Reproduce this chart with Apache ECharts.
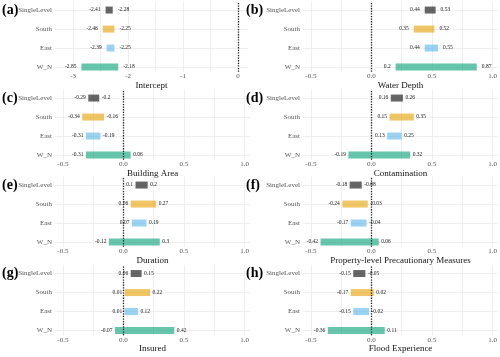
<!DOCTYPE html>
<html>
<head>
<meta charset="utf-8">
<script src="https://cdn.jsdelivr.net/npm/echarts@6/dist/echarts.min.js"></script>
<style>
  html, body { margin: 0; padding: 0; background: #fff; }
  #chart { width: 500px; height: 357px; }
</style>
</head>
<body>
<div id="chart"></div>
<script>
// categories bottom -> top
const categories = ['W_N', 'East', 'South', 'SingleLevel']
const groupColors = ['#009E73', '#56B4E9', '#E69F00', '#000000']

// [low, high] per category, same order as categories
const interceptCI = [[-2.85, -2.18], [-2.39, -2.25], [-2.46, -2.25], [-2.41, -2.28]]
const waterDepthCI = [[0.2, 0.87], [0.44, 0.55], [0.35, 0.52], [0.44, 0.53]]
const buildingAreaCI = [[-0.31, 0.06], [-0.31, -0.19], [-0.34, -0.16], [-0.29, -0.2]]
const contaminationCI = [[-0.19, 0.32], [0.13, 0.25], [0.15, 0.35], [0.16, 0.26]]
const durationCI = [[-0.12, 0.3], [0.07, 0.19], [0.06, 0.27], [0.1, 0.2]]
const precautionCI = [[-0.42, 0.06], [-0.17, -0.04], [-0.24, -0.03], [-0.18, -0.08]]
const insuredCI = [[-0.07, 0.42], [0.01, 0.12], [0.01, 0.22], [0.06, 0.15]]
const floodExpCI = [[-0.36, 0.11], [-0.15, -0.02], [-0.17, 0.02], [-0.15, -0.05]]

const panelData = [interceptCI, waterDepthCI, buildingAreaCI, contaminationCI,
  durationCI, precautionCI, insuredCI, floodExpCI]
const panelTags = ['(a)', '(b)', '(c)', '(d)', '(e)', '(f)', '(g)', '(h)']
const panelTitles = ['Intercept', 'Water Depth', 'Building Area', 'Contamination',
  'Duration', 'Property-level Precautionary Measures', 'Insured', 'Flood Experience']

// axis ticks
const interceptLabels = [-3, -2, -1, 0]
const interceptGrid = [-3, -2.5, -2, -1.5, -1, -0.5, 0]
const coefLabels = [-0.5, 0, 0.5, 1]
const coefGrid = [-0.5, -0.25, 0, 0.25, 0.5, 0.75, 1]
const rowTicks = [0, 1, 2, 3]

const FONT = '"Liberation Serif", "DejaVu Serif", serif'
const rowTops = [1.5, 89.5, 176.5, 265]
const colLefts = [55, 303]
const gridH = 70.3

const grids = []
const xAxes = []
const yAxes = []
const series = []
const titles = []

panelData.forEach((ci, i) => {
  const row = Math.floor(i / 2)
  const col = i % 2
  const isIntercept = i === 0

  grids.push({
    left: colLefts[col],
    top: rowTops[row],
    width: isIntercept ? 193 : 195,
    height: gridH,
  })

  xAxes.push({
    type: 'value',
    gridIndex: i,
    min: isIntercept ? -3.33 : -0.565,
    max: isIntercept ? 0.18 : 1.045,
    name: panelTitles[i],
    nameLocation: 'middle',
    nameGap: 6,
    nameTextStyle: { fontFamily: FONT, fontSize: 9, color: '#111' },
    axisLine: { show: false },
    axisTick: { show: false, customValues: isIntercept ? interceptGrid : coefGrid },
    axisLabel: {
      customValues: isIntercept ? interceptLabels : coefLabels,
      margin: 1,
      fontFamily: FONT,
      fontSize: 7,
      color: '#555',
      formatter: v => isIntercept ? String(v) : v.toFixed(1),
    },
    splitLine: { show: true, lineStyle: { color: '#ebebeb', width: 0.8 } },
  })

  yAxes.push({
    type: 'value',
    gridIndex: i,
    min: -0.25,
    max: 3.45,
    axisLine: { show: false },
    axisTick: { show: false, customValues: rowTicks },
    axisLabel: {
      customValues: rowTicks,
      margin: 3,
      fontFamily: FONT,
      fontSize: 7,
      color: '#555',
      formatter: v => categories[v],
    },
    splitLine: { show: true, lineStyle: { color: '#ebebeb', width: 0.8 } },
  })

  const gap = i < 2 ? 5 : 2.5
  series.push({
    type: 'custom',
    xAxisIndex: i,
    yAxisIndex: i,
    data: ci.map((d, k) => [d[0], d[1], k]),
    renderItem: (params, api) => {
      const k = api.value(2)
      const lo = api.coord([api.value(0), k])
      const hi = api.coord([api.value(1), k])
      const h = 7
      const txt = (x, y, text, align) => ({
        type: 'text',
        x: x,
        y: y,
        style: {
          text: text,
          align: align,
          textAlign: align,
          verticalAlign: 'middle',
          textVerticalAlign: 'middle',
          fontFamily: FONT,
          fontSize: 5.5,
          fill: '#1a1a1a',
        },
      })
      return {
        type: 'group',
        children: [
          txt(lo[0] - gap, lo[1], String(ci[k][0]), 'right'),
          txt(hi[0] + gap, hi[1], String(ci[k][1]), 'left'),
          {
            type: 'rect',
            shape: { x: lo[0], y: lo[1] - h / 2, width: hi[0] - lo[0], height: h },
            style: { fill: groupColors[k], opacity: 0.6 },
          },
        ],
      }
    },
    markLine: {
      silent: true,
      symbol: 'none',
      label: { show: false },
      lineStyle: { color: '#222', type: 'dotted', width: 1.3 },
      data: [{ xAxis: 0 }],
    },
  })

  titles.push({
    text: panelTags[i],
    left: col === 0 ? 2 : 246,
    top: rowTops[row] + 1.5,
    padding: 0,
    textStyle: { fontFamily: FONT, fontSize: 14, fontWeight: 'bold', color: '#000' },
  })
})

const chart = echarts.init(document.getElementById('chart'))
chart.setOption({
  animation: false,
  backgroundColor: '#fff',
  title: titles,
  grid: grids,
  xAxis: xAxes,
  yAxis: yAxes,
  series: series,
})
</script>
</body>
</html>
